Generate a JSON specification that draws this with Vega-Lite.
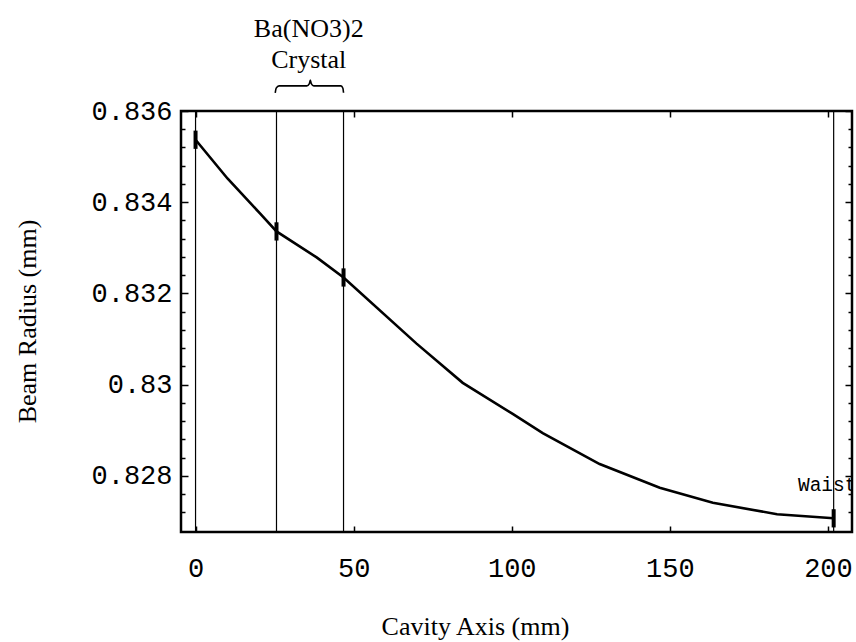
{
  "$schema": "https://vega.github.io/schema/vega-lite/v6.json",
  "width": 671,
  "height": 421,
  "autosize": {"type": "none"},
  "padding": {"left": 181, "top": 111, "right": 4, "bottom": 110},
  "background": "white",
  "config": {
    "view": {"stroke": "black", "strokeWidth": 2.5},
    "axis": {"domain": false, "grid": false, "tickColor": "black", "labelColor": "black", "titleColor": "black"}
  },
  "datasets": {
    "radius": [
      {"z": 0, "r": 0.83537},
      {"z": 10.1, "r": 0.83452},
      {"z": 20.3, "r": 0.83376},
      {"z": 25.6, "r": 0.83336},
      {"z": 38.3, "r": 0.83279},
      {"z": 46.8, "r": 0.83235},
      {"z": 69.9, "r": 0.8309},
      {"z": 84.5, "r": 0.83004},
      {"z": 100.3, "r": 0.82936},
      {"z": 109.8, "r": 0.82894},
      {"z": 127.8, "r": 0.82826},
      {"z": 146.8, "r": 0.82774},
      {"z": 163.6, "r": 0.82741},
      {"z": 183.9, "r": 0.82716},
      {"z": 201.8, "r": 0.82707}
    ],
    "planes": [
      {"z": 0},
      {"z": 25.6},
      {"z": 46.8},
      {"z": 201.8}
    ],
    "markers": [
      {"z": 0, "lo": 0.83517, "hi": 0.83557},
      {"z": 25.6, "lo": 0.83316, "hi": 0.83356},
      {"z": 46.8, "lo": 0.83215, "hi": 0.83255},
      {"z": 201.8, "lo": 0.82687, "hi": 0.82727}
    ],
    "brace": [
      {"z": 25.2, "r": 0.8364},
      {"z": 25.5, "r": 0.8365},
      {"z": 26.4, "r": 0.83655},
      {"z": 35.2, "r": 0.83655},
      {"z": 36.0, "r": 0.8366},
      {"z": 36.3, "r": 0.83668},
      {"z": 36.6, "r": 0.8366},
      {"z": 37.4, "r": 0.83655},
      {"z": 46.0, "r": 0.83655},
      {"z": 46.6, "r": 0.8365},
      {"z": 46.8, "r": 0.8364}
    ],
    "notes": [
      {"z": 35.8, "r": 0.837626, "text": "Ba(NO3)2"},
      {"z": 35.8, "r": 0.836945, "text": "Crystal"}
    ],
    "waist": [
      {"z": 190.5, "r": 0.8278, "text": "Waist"}
    ]
  },
  "layer": [
    {
      "data": {"name": "planes"},
      "mark": {"type": "rule", "color": "black", "strokeWidth": 1.2},
      "encoding": {
        "x": {"field": "z", "type": "quantitative", "scale": {"domain": [-4.6, 207.6], "nice": false, "zero": false}, "axis": null}
      }
    },
    {
      "data": {"name": "radius"},
      "mark": {"type": "line", "color": "black", "strokeWidth": 2.6},
      "encoding": {
        "x": {
          "field": "z", "type": "quantitative",
          "scale": {"domain": [-4.6, 207.6], "nice": false, "zero": false},
          "axis": {
            "orient": "bottom",
            "values": [0, 50, 100, 150, 200],
            "tickSize": -6,
            "tickWidth": 1.5,
            "labelFont": "Liberation Mono",
            "labelFontSize": 27,
            "labelBaseline": "alphabetic",
            "labelPadding": 50,
            "labelFlush": false,
            "labelOverlap": false,
            "title": "Cavity Axis (mm)",
            "titleFont": "Liberation Serif",
            "titleFontSize": 26,
            "titleFontWeight": "normal",
            "titleAlign": "center",
            "titleBaseline": "alphabetic",
            "titleX": 294,
            "titleY": 102
          }
        },
        "y": {
          "field": "r", "type": "quantitative",
          "scale": {"domain": [0.82677, 0.836], "nice": false, "zero": false},
          "axis": {
            "orient": "left",
            "values": [0.8272, 0.8276, 0.828, 0.8284, 0.8288, 0.8292, 0.8296, 0.83, 0.8304, 0.8308, 0.8312, 0.8316, 0.832, 0.8324, 0.8328, 0.8332, 0.8336, 0.834, 0.8344, 0.8348, 0.8352, 0.8356, 0.836],
            "labelExpr": "abs(datum.value * 500 - round(datum.value * 500)) < 0.01 ? format(datum.value, '.3~f') : ''",
            "tickSize": {"condition": {"test": "abs(datum.value * 500 - round(datum.value * 500)) < 0.01", "value": -7}, "value": -4},
            "tickWidth": 1.5,
            "labelFont": "Liberation Mono",
            "labelFontSize": 27,
            "labelBaseline": "middle",
            "labelPadding": 16,
            "labelFlush": false,
            "labelOverlap": false,
            "title": "Beam Radius (mm)",
            "titleFont": "Liberation Serif",
            "titleFontSize": 26,
            "titleFontWeight": "normal",
            "titleAngle": 270,
            "titleAlign": "center",
            "titleBaseline": "alphabetic",
            "titleX": -146,
            "titleY": 210
          }
        }
      }
    },
    {
      "data": {"name": "markers"},
      "mark": {"type": "rule", "color": "black", "strokeWidth": 4},
      "encoding": {
        "x": {
          "field": "z", "type": "quantitative",
          "scale": {"domain": [-4.6, 207.6], "nice": false, "zero": false},
          "axis": {"orient": "top", "values": [0, 50, 100, 150, 200], "labels": false, "tickSize": -6, "tickWidth": 1.5, "title": null}
        },
        "y": {
          "field": "lo", "type": "quantitative",
          "scale": {"domain": [0.82677, 0.836], "nice": false, "zero": false},
          "axis": {
            "orient": "right",
            "values": [0.8272, 0.8276, 0.828, 0.8284, 0.8288, 0.8292, 0.8296, 0.83, 0.8304, 0.8308, 0.8312, 0.8316, 0.832, 0.8324, 0.8328, 0.8332, 0.8336, 0.834, 0.8344, 0.8348, 0.8352, 0.8356, 0.836],
            "labels": false,
            "tickSize": {"condition": {"test": "abs(datum.value * 500 - round(datum.value * 500)) < 0.01", "value": -7}, "value": -4},
            "tickWidth": 1.5,
            "title": null
          }
        },
        "y2": {"field": "hi"}
      }
    },
    {
      "data": {"name": "brace"},
      "mark": {"type": "line", "color": "black", "strokeWidth": 1.6, "interpolate": "monotone", "clip": false},
      "encoding": {
        "x": {"field": "z", "type": "quantitative", "axis": null},
        "y": {"field": "r", "type": "quantitative", "axis": null}
      }
    },
    {
      "data": {"name": "notes"},
      "mark": {"type": "text", "font": "Liberation Serif", "fontSize": 26, "color": "black", "align": "center", "baseline": "alphabetic", "clip": false},
      "encoding": {
        "x": {"field": "z", "type": "quantitative", "axis": null},
        "y": {"field": "r", "type": "quantitative", "axis": null},
        "text": {"field": "text"}
      }
    },
    {
      "data": {"name": "waist"},
      "mark": {"type": "text", "font": "Liberation Mono", "fontSize": 19.5, "color": "black", "align": "left", "baseline": "middle", "clip": true},
      "encoding": {
        "x": {"field": "z", "type": "quantitative", "axis": null},
        "y": {"field": "r", "type": "quantitative", "axis": null},
        "text": {"field": "text"}
      }
    }
  ],
  "resolve": {"axis": {"x": "independent", "y": "independent"}}
}
